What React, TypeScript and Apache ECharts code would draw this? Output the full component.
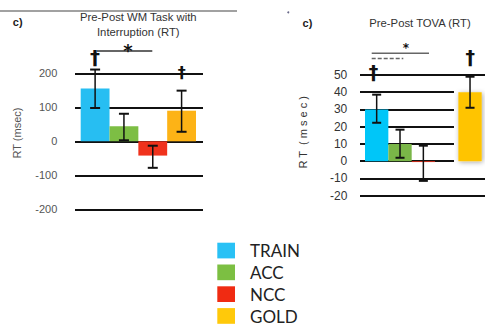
import { useEffect, useRef } from 'react';
import * as echarts from 'echarts';

// Legend
const legendNames = ['TRAIN', 'ACC', 'NCC', 'GOLD'];
const legendColors = ['#29C1F5', '#7CBF42', '#F02B12', '#FFC90A'];

// Left panel: Pre-Post WM Task with Interruption (RT)
const wmCategories = ['TRAIN', 'ACC', 'NCC', 'GOLD'];
const wmColors = ['#27BEF2', '#7DBE44', '#F0321C', '#FDB316'];
const wmMeans = [155, 44, -42, 90];
const wmLow = [98, 3, -78, 28];
const wmHigh = [211, 81, -13, 149];
const wmMin = -200;
const wmMax = 200;
const wmInterval = 100;

// Right panel: Pre-Post TOVA (RT) — 5 slots, 4th one empty
const tovaSlots = ['TRAIN', 'ACC', 'NCC', '', 'GOLD'];
const tovaColors = ['#00C6F8', '#7AB648', '#F0321C', '', '#FFC400'];
const tovaMeans: (number | null)[] = [30, 10, -0.5, null, 40];
const tovaLow: (number | null)[] = [22.3, 2, -11.4, null, 31];
const tovaHigh: (number | null)[] = [38.6, 18.3, 9, null, 49];
const tovaMin = -20;
const tovaMax = 50;
const tovaInterval = 10;

const SANS = "'Liberation Sans', Arial, sans-serif";
const NARROW = "'Liberation Sans Narrow', 'Arial Narrow', 'Liberation Sans', sans-serif";
const MARK = "'DejaVu Sans', sans-serif";

function errorBar(capHalf: number) {
  return (_params: any, api: any) => {
    const x = api.value(0);
    const lo = api.coord([x, api.value(1)]);
    const hi = api.coord([x, api.value(2)]);
    const stem = { stroke: '#111', lineWidth: 1.5 };
    const cap = { stroke: '#111', lineWidth: 2 };
    return {
      type: 'group',
      children: [
        { type: 'line', shape: { x1: hi[0], y1: hi[1], x2: lo[0], y2: lo[1] }, style: stem },
        { type: 'line', shape: { x1: hi[0] - capHalf, y1: hi[1], x2: hi[0] + capHalf, y2: hi[1] }, style: cap },
        { type: 'line', shape: { x1: lo[0] - capHalf, y1: lo[1], x2: lo[0] + capHalf, y2: lo[1] }, style: cap },
      ],
    };
  };
}

function txt(x: number, y: number, text: string, style: any, extra: any = {}) {
  return {
    type: 'text',
    x,
    y,
    ...extra,
    style: { text, align: 'center', verticalAlign: 'middle', fontFamily: SANS, fill: '#222', ...style },
  };
}

export default function App() {
  const ref = useRef<HTMLDivElement>(null);

  useEffect(() => {
    if (!ref.current) return;
    const chart = echarts.init(ref.current, null, { renderer: 'svg' });

    const wmBarData = wmMeans.map((v, i) => ({ value: v, itemStyle: { color: wmColors[i] } }));
    const wmErrData = wmCategories.map((_, i) => [i, wmLow[i], wmHigh[i]]);

    const tovaBarData = tovaMeans.map((v, i) =>
      v === null
        ? '-'
        : {
            value: v,
            itemStyle: {
              color: tovaColors[i],
              ...(tovaSlots[i] === 'GOLD'
                ? { shadowBlur: 5, shadowColor: 'rgba(0,0,0,0.35)', shadowOffsetX: 1, shadowOffsetY: 1 }
                : {}),
            },
          }
    );
    const tovaErrData: any[] = [];
    tovaSlots.forEach((_, i) => {
      if (tovaLow[i] !== null && tovaHigh[i] !== null) tovaErrData.push([i, tovaLow[i], tovaHigh[i]]);
    });

    const hiddenX = (data: string[]) => ({ type: 'category', data, show: false, boundaryGap: true });

    const lineAxis = (min: number, max: number, interval: number, labels: any, color: any) => ({
      type: 'value',
      min,
      max,
      interval,
      axisLine: { show: false },
      axisTick: { show: false },
      axisLabel: labels,
      splitLine: { show: true, lineStyle: { color, width: 2 } },
    });

    const hiddenY = (min: number, max: number, interval: number) => ({
      type: 'value',
      min,
      max,
      interval,
      show: false,
    });

    const mark = (x: number, y: number, ch: string, size: number) =>
      txt(x, y, ch, { fontSize: size, fontWeight: 'bold', fill: '#111', fontFamily: MARK });

    const graphics: any[] = [
      // top rule and stray dot
      { type: 'line', shape: { x1: 0, y1: 11, x2: 237, y2: 11 }, style: { stroke: '#444', lineWidth: 1.2 } },
      { type: 'circle', shape: { cx: 288.3, cy: 12.3, r: 1 }, style: { fill: '#6a6a8a' } },
      // left panel texts
      txt(17.7, 21.7, 'c)', { fontSize: 11, fontWeight: 'bold' }),
      txt(138.3, 24.5, 'Pre-Post WM Task with\nInterruption (RT)', { fontSize: 11.3, fill: '#333', lineHeight: 15 }),
      txt(17, 133, 'RT (msec)', { fontSize: 11, fill: '#555' }, { rotation: Math.PI / 2 }),
      { type: 'line', shape: { x1: 96.7, y1: 51, x2: 152.3, y2: 51 }, style: { stroke: '#333', lineWidth: 1.5 } },
      mark(128, 50.5, '*', 18),
      mark(95, 56.5, '\u2020', 20),
      mark(181.7, 72.8, '\u2020', 16),
      // right panel texts
      txt(307.5, 22.7, 'c)', { fontSize: 11, fontWeight: 'bold' }),
      txt(420, 22.7, 'Pre-Post TOVA (RT)', { fontSize: 11.3, fill: '#333', fontFamily: NARROW }),
      txt(303.3, 132.3, 'R T  ( m s e c )', { fontSize: 11, fill: '#333' }, { rotation: Math.PI / 2 }),
      mark(406, 47.5, '*', 12),
      { type: 'line', shape: { x1: 371.7, y1: 53.3, x2: 429, y2: 53.3 }, style: { stroke: '#666', lineWidth: 1.5 } },
      {
        type: 'line',
        shape: { x1: 371.7, y1: 58.5, x2: 403.3, y2: 58.5 },
        style: { stroke: '#666', lineWidth: 1.5, lineDash: [4, 2] },
      },
      mark(373.6, 72, '\u2020', 19),
      mark(470.2, 57, '\u2020', 19),
    ];

    legendNames.forEach((name, i) => {
      graphics.push({
        type: 'rect',
        shape: { x: 217.3, y: 242.7 + i * 21.8, width: 17.7, height: 15.7 },
        style: { fill: legendColors[i] },
      });
      graphics.push({
        type: 'text',
        x: 250,
        y: 250.7 + i * 21.8,
        style: {
          text: name,
          align: 'left',
          verticalAlign: 'middle',
          fontSize: 17,
          fontFamily: "Lato, 'Open Sans', sans-serif",
          fill: '#222',
        },
      });
    });

    // colours for the full-width TOVA grid lines: only -20, -10 and 50 extend over the gold bar region
    const tovaLineColors: string[] = [];
    for (let v = tovaMin; v <= tovaMax; v += tovaInterval) {
      tovaLineColors.push(v === -20 || v === -10 || v === 50 ? '#111' : 'transparent');
    }

    chart.setOption({
      animation: false,
      grid: [
        { left: 75, top: 73.3, width: 128, height: 136 },
        { left: 80.7, top: 73.3, width: 115.3, height: 136 },
        { left: 360, top: 75, width: 94, height: 120.7 },
        { left: 360, top: 75, width: 125, height: 120.7 },
        { left: 365, top: 75, width: 116.7, height: 120.7 },
      ],
      xAxis: [
        { ...hiddenX(['']), gridIndex: 0 },
        { ...hiddenX(wmCategories), gridIndex: 1 },
        { ...hiddenX(['']), gridIndex: 2 },
        { ...hiddenX(['']), gridIndex: 3 },
        { ...hiddenX(tovaSlots), gridIndex: 4 },
      ],
      yAxis: [
        {
          ...lineAxis(
            wmMin,
            wmMax,
            wmInterval,
            { show: true, margin: 17.7, fontSize: 11, color: '#555', fontFamily: SANS },
            '#111'
          ),
          gridIndex: 0,
        },
        { ...hiddenY(wmMin, wmMax, wmInterval), gridIndex: 1 },
        {
          ...lineAxis(
            tovaMin,
            tovaMax,
            tovaInterval,
            { show: true, margin: 12.7, fontSize: 12, color: '#333', fontFamily: NARROW },
            '#111'
          ),
          gridIndex: 2,
        },
        { ...lineAxis(tovaMin, tovaMax, tovaInterval, { show: false }, tovaLineColors), gridIndex: 3 },
        { ...hiddenY(tovaMin, tovaMax, tovaInterval), gridIndex: 4 },
      ],
      series: [
        {
          type: 'bar',
          xAxisIndex: 1,
          yAxisIndex: 1,
          barCategoryGap: '0%',
          data: wmBarData,
          z: 3,
        },
        {
          type: 'custom',
          xAxisIndex: 1,
          yAxisIndex: 1,
          renderItem: errorBar(5),
          encode: { x: 0, y: [1, 2] },
          data: wmErrData,
          z: 5,
        },
        {
          type: 'bar',
          xAxisIndex: 4,
          yAxisIndex: 4,
          barCategoryGap: '0%',
          data: tovaBarData,
          z: 3,
        },
        {
          type: 'custom',
          xAxisIndex: 4,
          yAxisIndex: 4,
          renderItem: errorBar(4.5),
          encode: { x: 0, y: [1, 2] },
          data: tovaErrData,
          z: 5,
        },
      ],
      graphic: graphics,
    });

    return () => chart.dispose();
  }, []);

  return (
    <div
      ref={ref}
      style={{ position: 'fixed', left: 0, top: 0, width: 485, height: 329, background: '#fff' }}
    />
  );
}
